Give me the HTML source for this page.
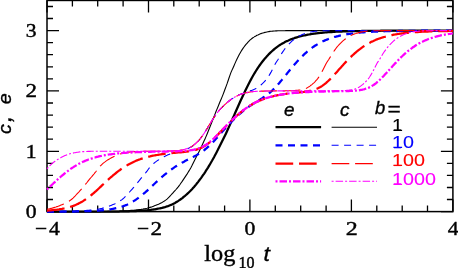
<!DOCTYPE html>
<html><head><meta charset="utf-8">
<style>
html,body{margin:0;padding:0;background:#fff;}
body{width:458px;height:268px;overflow:hidden;position:relative;font-family:"Liberation Sans",sans-serif;}
svg{position:absolute;left:0;top:0;}
.t{position:absolute;white-space:nowrap;line-height:1;color:#000;}
</style></head><body>
<svg style="will-change:transform" width="458" height="268" viewBox="0 0 458 268">
<rect x="47.0" y="0.45" width="405.9" height="211.15" fill="none" stroke="#000" stroke-width="1.5"/>
<path d="M47.0,211.6 v-12 M47.0,0.45 v12 M72.4,211.6 v-6 M72.4,0.45 v6 M97.7,211.6 v-6 M97.7,0.45 v6 M123.1,211.6 v-6 M123.1,0.45 v6 M148.5,211.6 v-12 M148.5,0.45 v12 M173.8,211.6 v-6 M173.8,0.45 v6 M199.2,211.6 v-6 M199.2,0.45 v6 M224.6,211.6 v-6 M224.6,0.45 v6 M249.9,211.6 v-12 M249.9,0.45 v12 M275.3,211.6 v-6 M275.3,0.45 v6 M300.7,211.6 v-6 M300.7,0.45 v6 M326.1,211.6 v-6 M326.1,0.45 v6 M351.4,211.6 v-12 M351.4,0.45 v12 M376.8,211.6 v-6 M376.8,0.45 v6 M402.2,211.6 v-6 M402.2,0.45 v6 M427.5,211.6 v-6 M427.5,0.45 v6 M452.9,211.6 v-12 M452.9,0.45 v12 M47.0,211.6 h12 M452.9,211.6 h-12 M47.0,199.5 h6 M452.9,199.5 h-6 M47.0,187.5 h6 M452.9,187.5 h-6 M47.0,175.4 h6 M452.9,175.4 h-6 M47.0,163.3 h6 M452.9,163.3 h-6 M47.0,151.3 h12 M452.9,151.3 h-12 M47.0,139.2 h6 M452.9,139.2 h-6 M47.0,127.1 h6 M452.9,127.1 h-6 M47.0,115.1 h6 M452.9,115.1 h-6 M47.0,103.0 h6 M452.9,103.0 h-6 M47.0,90.9 h12 M452.9,90.9 h-12 M47.0,78.9 h6 M452.9,78.9 h-6 M47.0,66.8 h6 M452.9,66.8 h-6 M47.0,54.7 h6 M452.9,54.7 h-6 M47.0,42.7 h6 M452.9,42.7 h-6 M47.0,30.6 h12 M452.9,30.6 h-12 M47.0,18.5 h6 M452.9,18.5 h-6 M47.0,6.5 h6 M452.9,6.5 h-6" stroke="#000" stroke-width="1.3" fill="none"/>
<path d="M47.0,211.6 L48.0,211.6 L49.0,211.6 L50.0,211.6 L51.0,211.6 L52.0,211.6 L53.0,211.6 L54.0,211.6 L55.0,211.6 L56.0,211.6 L57.0,211.6 L58.0,211.6 L59.0,211.6 L60.0,211.6 L61.0,211.6 L62.0,211.6 L63.0,211.6 L64.0,211.6 L65.0,211.6 L66.0,211.6 L67.0,211.6 L68.0,211.6 L69.0,211.6 L70.0,211.6 L71.0,211.6 L72.0,211.6 L73.0,211.6 L74.0,211.6 L75.0,211.6 L76.0,211.6 L77.0,211.6 L78.0,211.6 L79.0,211.6 L80.0,211.6 L81.0,211.6 L82.0,211.6 L83.0,211.6 L84.0,211.6 L85.0,211.6 L86.0,211.6 L87.0,211.6 L88.0,211.6 L89.0,211.6 L90.0,211.6 L91.0,211.6 L92.0,211.6 L93.0,211.6 L94.0,211.6 L95.0,211.6 L96.0,211.6 L97.0,211.6 L98.0,211.6 L99.0,211.6 L100.0,211.6 L101.0,211.6 L102.0,211.6 L103.0,211.6 L104.0,211.6 L105.0,211.6 L106.0,211.6 L107.0,211.6 L108.0,211.6 L109.0,211.6 L110.0,211.6 L111.0,211.5 L112.0,211.5 L113.0,211.5 L114.0,211.5 L115.0,211.5 L116.0,211.5 L117.0,211.5 L118.0,211.5 L119.0,211.5 L120.0,211.4 L121.0,211.4 L122.0,211.4 L123.0,211.4 L124.0,211.4 L125.0,211.4 L126.0,211.3 L127.0,211.3 L128.0,211.3 L129.0,211.3 L130.0,211.2 L131.0,211.2 L132.0,211.2 L133.0,211.1 L134.0,211.1 L135.0,211.0 L136.0,211.0 L137.0,210.9 L138.0,210.9 L139.0,210.8 L140.0,210.8 L141.0,210.7 L142.0,210.7 L143.0,210.6 L144.0,210.5 L145.0,210.4 L146.0,210.4 L147.0,210.3 L148.0,210.2 L149.0,210.1 L150.0,210.0 L151.0,209.8 L152.0,209.7 L153.0,209.6 L154.0,209.4 L155.0,209.3 L156.0,209.1 L157.0,208.9 L158.0,208.7 L159.0,208.5 L160.0,208.3 L161.0,208.1 L162.0,207.9 L163.0,207.6 L164.0,207.3 L165.0,207.1 L166.0,206.7 L167.0,206.4 L168.0,206.1 L169.0,205.7 L170.0,205.3 L171.0,204.9 L172.0,204.4 L173.0,203.9 L174.0,203.4 L175.0,202.9 L176.0,202.3 L177.0,201.7 L178.0,201.1 L179.0,200.4 L180.0,199.8 L181.0,199.0 L182.0,198.3 L183.0,197.5 L184.0,196.7 L185.0,195.9 L186.0,195.0 L187.0,194.1 L188.0,193.2 L189.0,192.2 L190.0,191.3 L191.0,190.2 L192.0,189.2 L193.0,188.1 L194.0,187.0 L195.0,185.8 L196.0,184.6 L197.0,183.3 L198.0,182.1 L199.0,180.7 L200.0,179.4 L201.0,178.1 L202.0,176.7 L203.0,175.2 L204.0,173.8 L205.0,172.3 L206.0,170.7 L207.0,169.2 L208.0,167.6 L209.0,165.9 L210.0,164.2 L211.0,162.5 L212.0,160.8 L213.0,159.0 L214.0,157.2 L215.0,155.3 L216.0,153.4 L217.0,151.5 L218.0,149.6 L219.0,147.6 L220.0,145.6 L221.0,143.6 L222.0,141.6 L223.0,139.6 L224.0,137.5 L225.0,135.5 L226.0,133.4 L227.0,131.2 L228.0,129.1 L229.0,126.9 L230.0,124.6 L231.0,122.4 L232.0,120.1 L233.0,117.8 L234.0,115.6 L235.0,113.3 L236.0,111.0 L237.0,108.8 L238.0,106.5 L239.0,104.3 L240.0,102.0 L241.0,99.8 L242.0,97.7 L243.0,95.5 L244.0,93.4 L245.0,91.3 L246.0,89.2 L247.0,87.2 L248.0,85.3 L249.0,83.3 L249.9,81.4 L250.9,79.6 L251.9,77.8 L252.9,76.0 L253.9,74.3 L254.9,72.6 L255.9,71.0 L256.9,69.4 L257.9,67.9 L258.9,66.4 L259.9,65.0 L260.9,63.6 L261.9,62.3 L262.9,61.0 L263.9,59.7 L264.9,58.5 L265.9,57.4 L266.9,56.3 L267.9,55.2 L268.9,54.1 L269.9,53.1 L270.9,52.2 L271.9,51.2 L272.9,50.3 L273.9,49.5 L274.9,48.7 L275.9,47.9 L276.9,47.1 L277.9,46.4 L278.9,45.7 L279.9,45.0 L280.9,44.4 L281.9,43.8 L282.9,43.2 L283.9,42.7 L284.9,42.1 L285.9,41.6 L286.9,41.1 L287.9,40.7 L288.9,40.2 L289.9,39.8 L290.9,39.4 L291.9,39.0 L292.9,38.6 L293.9,38.3 L294.9,37.9 L295.9,37.6 L296.9,37.3 L297.9,37.0 L298.9,36.7 L299.9,36.4 L300.9,36.2 L301.9,35.9 L302.9,35.7 L303.9,35.5 L304.9,35.3 L305.9,35.1 L306.9,34.9 L307.9,34.7 L308.9,34.5 L309.9,34.3 L310.9,34.1 L311.9,34.0 L312.9,33.8 L313.9,33.7 L314.9,33.6 L315.9,33.4 L316.9,33.3 L317.9,33.2 L318.9,33.1 L319.9,33.0 L320.9,32.9 L321.9,32.8 L322.9,32.7 L323.9,32.6 L324.9,32.5 L325.9,32.4 L326.9,32.3 L327.9,32.2 L328.9,32.2 L329.9,32.1 L330.9,32.0 L331.9,32.0 L332.9,31.9 L333.9,31.8 L334.9,31.8 L335.9,31.7 L336.9,31.7 L337.9,31.6 L338.9,31.6 L339.9,31.6 L340.9,31.5 L341.9,31.5 L342.9,31.4 L343.9,31.4 L344.9,31.4 L345.9,31.3 L346.9,31.3 L347.9,31.3 L348.9,31.2 L349.9,31.2 L350.9,31.2 L351.9,31.2 L352.9,31.1 L353.9,31.1 L354.9,31.1 L355.9,31.1 L356.9,31.0 L357.9,31.0 L358.9,31.0 L359.9,31.0 L360.9,31.0 L361.9,30.9 L362.9,30.9 L363.9,30.9 L364.9,30.9 L365.9,30.9 L366.9,30.9 L367.9,30.9 L368.9,30.9 L369.9,30.8 L370.9,30.8 L371.9,30.8 L372.9,30.8 L373.9,30.8 L374.9,30.8 L375.9,30.8 L376.9,30.8 L377.9,30.8 L378.9,30.8 L379.9,30.8 L380.9,30.7 L381.9,30.7 L382.9,30.7 L383.9,30.7 L384.9,30.7 L385.9,30.7 L386.9,30.7 L387.9,30.7 L388.9,30.7 L389.9,30.7 L390.9,30.7 L391.9,30.7 L392.9,30.7 L393.9,30.7 L394.9,30.7 L395.9,30.7 L396.9,30.7 L397.9,30.7 L398.9,30.7 L399.9,30.7 L400.9,30.7 L401.9,30.7 L402.9,30.7 L403.9,30.7 L404.9,30.6 L405.9,30.6 L406.9,30.6 L407.9,30.6 L408.9,30.6 L409.9,30.6 L410.9,30.6 L411.9,30.6 L412.9,30.6 L413.9,30.6 L414.9,30.6 L415.9,30.6 L416.9,30.6 L417.9,30.6 L418.9,30.6 L419.9,30.6 L420.9,30.6 L421.9,30.6 L422.9,30.6 L423.9,30.6 L424.9,30.6 L425.9,30.6 L426.9,30.6 L427.9,30.6 L428.9,30.6 L429.9,30.6 L430.9,30.6 L431.9,30.6 L432.9,30.6 L433.9,30.6 L434.9,30.6 L435.9,30.6 L436.9,30.6 L437.9,30.6 L438.9,30.6 L439.9,30.6 L440.9,30.6 L441.9,30.6 L442.9,30.6 L443.9,30.6 L444.9,30.6 L445.9,30.6 L446.9,30.6 L447.9,30.6 L448.9,30.6 L449.9,30.6 L450.9,30.6 L451.9,30.6 L452.9,30.6" stroke="#000000" stroke-width="2.25" fill="none"/>
<path d="M47.0,211.6 L48.0,211.6 L49.0,211.6 L50.0,211.6 L51.0,211.6 L52.0,211.6 L53.0,211.6 L54.0,211.6 L55.0,211.6 L56.0,211.6 L57.0,211.6 L58.0,211.6 L59.0,211.6 L60.0,211.6 L61.0,211.6 L62.0,211.6 L63.0,211.6 L64.0,211.6 L65.0,211.6 L66.0,211.6 L67.0,211.6 L68.0,211.6 L69.0,211.6 L70.0,211.6 L71.0,211.6 L72.0,211.6 L73.0,211.6 L74.0,211.6 L75.0,211.6 L76.0,211.6 L77.0,211.6 L78.0,211.6 L79.0,211.6 L80.0,211.6 L81.0,211.6 L82.0,211.6 L83.0,211.6 L84.0,211.6 L85.0,211.6 L86.0,211.6 L87.0,211.6 L88.0,211.6 L89.0,211.6 L90.0,211.6 L91.0,211.6 L92.0,211.6 L93.0,211.6 L94.0,211.6 L95.0,211.6 L96.0,211.6 L97.0,211.6 L98.0,211.6 L99.0,211.6 L100.0,211.6 L101.0,211.5 L102.0,211.5 L103.0,211.5 L104.0,211.5 L105.0,211.5 L106.0,211.5 L107.0,211.5 L108.0,211.4 L109.0,211.4 L110.0,211.4 L111.0,211.4 L112.0,211.4 L113.0,211.3 L114.0,211.3 L115.0,211.3 L116.0,211.3 L117.0,211.2 L118.0,211.2 L119.0,211.2 L120.0,211.1 L121.0,211.1 L122.0,211.1 L123.0,211.0 L124.0,210.9 L125.0,210.9 L126.0,210.8 L127.0,210.8 L128.0,210.7 L129.0,210.6 L130.0,210.5 L131.0,210.4 L132.0,210.4 L133.0,210.3 L134.0,210.2 L135.0,210.1 L136.0,210.0 L137.0,209.8 L138.0,209.7 L139.0,209.6 L140.0,209.5 L141.0,209.4 L142.0,209.2 L143.0,209.1 L144.0,208.9 L145.0,208.7 L146.0,208.5 L147.0,208.3 L148.0,208.0 L149.0,207.7 L150.0,207.4 L151.0,207.1 L152.0,206.8 L153.0,206.4 L154.0,206.0 L155.0,205.6 L156.0,205.2 L157.0,204.8 L158.0,204.4 L159.0,204.0 L160.0,203.5 L161.0,203.0 L162.0,202.5 L163.0,201.9 L164.0,201.3 L165.0,200.6 L166.0,199.9 L167.0,199.1 L168.0,198.2 L169.0,197.2 L170.0,196.1 L171.0,195.0 L172.0,193.9 L173.0,192.8 L174.0,191.7 L175.0,190.6 L176.0,189.5 L177.0,188.3 L178.0,187.1 L179.0,185.8 L180.0,184.5 L181.0,183.0 L182.0,181.6 L183.0,180.1 L184.0,178.6 L185.0,177.1 L186.0,175.6 L187.0,174.1 L188.0,172.5 L189.0,170.9 L190.0,169.3 L191.0,167.5 L192.0,165.6 L193.0,163.5 L194.0,161.4 L195.0,159.4 L196.0,157.5 L197.0,155.6 L198.0,153.7 L199.0,151.7 L200.0,149.7 L201.0,147.6 L202.0,145.5 L203.0,143.3 L204.0,141.1 L205.0,138.9 L206.0,136.6 L207.0,134.2 L208.0,131.8 L209.0,129.3 L210.0,126.8 L211.0,124.3 L212.0,121.8 L213.0,119.2 L214.0,116.6 L215.0,114.1 L216.0,111.5 L217.0,109.1 L218.0,106.7 L219.0,104.2 L220.0,101.8 L221.0,99.5 L222.0,97.1 L223.0,94.6 L224.0,92.0 L225.0,89.3 L226.0,86.6 L227.0,83.9 L228.0,81.0 L229.0,78.0 L230.0,75.1 L231.0,72.4 L232.0,70.1 L233.0,67.9 L234.0,65.7 L235.0,63.4 L236.0,61.1 L237.0,58.9 L238.0,56.9 L239.0,55.0 L240.0,53.2 L241.0,51.5 L242.0,49.9 L243.0,48.4 L244.0,47.0 L245.0,45.7 L246.0,44.4 L247.0,43.3 L248.0,42.2 L249.0,41.1 L249.9,40.2 L250.9,39.3 L251.9,38.5 L252.9,37.7 L253.9,37.1 L254.9,36.4 L255.9,35.9 L256.9,35.3 L257.9,34.9 L258.9,34.4 L259.9,34.0 L260.9,33.6 L261.9,33.3 L262.9,33.0 L263.9,32.7 L264.9,32.4 L265.9,32.2 L266.9,32.0 L267.9,31.8 L268.9,31.6 L269.9,31.4 L270.9,31.3 L271.9,31.2 L272.9,31.1 L273.9,31.0 L274.9,31.0 L275.9,30.9 L276.9,30.9 L277.9,30.8 L278.9,30.8 L279.9,30.8 L280.9,30.7 L281.9,30.7 L282.9,30.7 L283.9,30.7 L284.9,30.7 L285.9,30.6 L286.9,30.6 L287.9,30.6 L288.9,30.6 L289.9,30.6 L290.9,30.6 L291.9,30.6 L292.9,30.6 L293.9,30.6 L294.9,30.6 L295.9,30.6 L296.9,30.6 L297.9,30.6 L298.9,30.6 L299.9,30.6 L300.9,30.6 L301.9,30.6 L302.9,30.6 L303.9,30.6 L304.9,30.6 L305.9,30.6 L306.9,30.6 L307.9,30.6 L308.9,30.6 L309.9,30.6 L310.9,30.6 L311.9,30.6 L312.9,30.6 L313.9,30.6 L314.9,30.6 L315.9,30.6 L316.9,30.6 L317.9,30.6 L318.9,30.6 L319.9,30.6 L320.9,30.6 L321.9,30.6 L322.9,30.6 L323.9,30.6 L324.9,30.6 L325.9,30.6 L326.9,30.6 L327.9,30.6 L328.9,30.6 L329.9,30.6 L330.9,30.6 L331.9,30.6 L332.9,30.6 L333.9,30.6 L334.9,30.6 L335.9,30.6 L336.9,30.6 L337.9,30.6 L338.9,30.6 L339.9,30.6 L340.9,30.6 L341.9,30.6 L342.9,30.6 L343.9,30.6 L344.9,30.6 L345.9,30.6 L346.9,30.6 L347.9,30.6 L348.9,30.6 L349.9,30.6 L350.9,30.6 L351.9,30.6 L352.9,30.6 L353.9,30.6 L354.9,30.6 L355.9,30.6 L356.9,30.6 L357.9,30.6 L358.9,30.6 L359.9,30.6 L360.9,30.6 L361.9,30.6 L362.9,30.6 L363.9,30.6 L364.9,30.6 L365.9,30.6 L366.9,30.6 L367.9,30.6 L368.9,30.6 L369.9,30.6 L370.9,30.6 L371.9,30.6 L372.9,30.6 L373.9,30.6 L374.9,30.6 L375.9,30.6 L376.9,30.6 L377.9,30.6 L378.9,30.6 L379.9,30.6 L380.9,30.6 L381.9,30.6 L382.9,30.6 L383.9,30.6 L384.9,30.6 L385.9,30.6 L386.9,30.6 L387.9,30.6 L388.9,30.6 L389.9,30.6 L390.9,30.6 L391.9,30.6 L392.9,30.6 L393.9,30.6 L394.9,30.6 L395.9,30.6 L396.9,30.6 L397.9,30.6 L398.9,30.6 L399.9,30.6 L400.9,30.6 L401.9,30.6 L402.9,30.6 L403.9,30.6 L404.9,30.6 L405.9,30.6 L406.9,30.6 L407.9,30.6 L408.9,30.6 L409.9,30.6 L410.9,30.6 L411.9,30.6 L412.9,30.6 L413.9,30.6 L414.9,30.6 L415.9,30.6 L416.9,30.6 L417.9,30.6 L418.9,30.6 L419.9,30.6 L420.9,30.6 L421.9,30.6 L422.9,30.6 L423.9,30.6 L424.9,30.6 L425.9,30.6 L426.9,30.6 L427.9,30.6 L428.9,30.6 L429.9,30.6 L430.9,30.6 L431.9,30.6 L432.9,30.6 L433.9,30.6 L434.9,30.6 L435.9,30.6 L436.9,30.6 L437.9,30.6 L438.9,30.6 L439.9,30.6 L440.9,30.6 L441.9,30.6 L442.9,30.6 L443.9,30.6 L444.9,30.6 L445.9,30.6 L446.9,30.6 L447.9,30.6 L448.9,30.6 L449.9,30.6 L450.9,30.6 L451.9,30.6 L452.9,30.6" stroke="#000000" stroke-width="1.1" fill="none"/>
<path d="M47.0,211.6 L48.0,211.6 L49.0,211.6 L50.0,211.6 L51.0,211.6 L52.0,211.6 L53.0,211.6 L54.0,211.6 L55.0,211.6 L56.0,211.6 L57.0,211.6 L58.0,211.6 L59.0,211.6 L60.0,211.6 L61.0,211.6 L62.0,211.6 L63.0,211.6 L64.0,211.6 L65.0,211.6 L66.0,211.5 L67.0,211.5 L68.0,211.5 L69.0,211.5 L70.0,211.5 L71.0,211.5 L72.0,211.5 L73.0,211.5 L74.0,211.5 L75.0,211.5 L76.0,211.4 L77.0,211.4 L78.0,211.4 L79.0,211.4 L80.0,211.4 L81.0,211.3 L82.0,211.3 L83.0,211.3 L84.0,211.3 L85.0,211.2 L86.0,211.2 L87.0,211.2 L88.0,211.1 L89.0,211.1 L90.0,211.1 L91.0,211.0 L92.0,211.0 L93.0,210.9 L94.0,210.9 L95.0,210.8 L96.0,210.7 L97.0,210.7 L98.0,210.6 L99.0,210.6 L100.0,210.5 L101.0,210.4 L102.0,210.3 L103.0,210.2 L104.0,210.1 L105.0,210.0 L106.0,209.9 L107.0,209.8 L108.0,209.6 L109.0,209.5 L110.0,209.3 L111.0,209.2 L112.0,209.0 L113.0,208.8 L114.0,208.6 L115.0,208.4 L116.0,208.2 L117.0,208.0 L118.0,207.7 L119.0,207.5 L120.0,207.2 L121.0,206.9 L122.0,206.6 L123.0,206.3 L124.0,205.9 L125.0,205.5 L126.0,205.1 L127.0,204.7 L128.0,204.2 L129.0,203.7 L130.0,203.2 L131.0,202.7 L132.0,202.1 L133.0,201.5 L134.0,200.9 L135.0,200.3 L136.0,199.6 L137.0,198.9 L138.0,198.2 L139.0,197.4 L140.0,196.7 L141.0,195.9 L142.0,195.1 L143.0,194.3 L144.0,193.4 L145.0,192.6 L146.0,191.7 L147.0,190.8 L148.0,189.9 L149.0,189.0 L150.0,188.1 L151.0,187.1 L152.0,186.1 L153.0,185.2 L154.0,184.2 L155.0,183.3 L156.0,182.3 L157.0,181.4 L158.0,180.5 L159.0,179.6 L160.0,178.7 L161.0,177.8 L162.0,176.9 L163.0,176.0 L164.0,175.2 L165.0,174.4 L166.0,173.6 L167.0,172.7 L168.0,172.0 L169.0,171.2 L170.0,170.4 L171.0,169.7 L172.0,169.0 L173.0,168.3 L174.0,167.6 L175.0,166.9 L176.0,166.3 L177.0,165.7 L178.0,165.1 L179.0,164.5 L180.0,163.9 L181.0,163.3 L182.0,162.7 L183.0,162.2 L184.0,161.7 L185.0,161.1 L186.0,160.6 L187.0,160.1 L188.0,159.6 L189.0,159.1 L190.0,158.6 L191.0,158.1 L192.0,157.6 L193.0,157.1 L194.0,156.5 L195.0,156.0 L196.0,155.5 L197.0,154.9 L198.0,154.3 L199.0,153.7 L200.0,153.1 L201.0,152.4 L202.0,151.7 L203.0,151.0 L204.0,150.3 L205.0,149.5 L206.0,148.7 L207.0,147.8 L208.0,147.0 L209.0,146.0 L210.0,145.1 L211.0,144.1 L212.0,143.1 L213.0,142.1 L214.0,141.0 L215.0,139.9 L216.0,138.8 L217.0,137.7 L218.0,136.6 L219.0,135.5 L220.0,134.3 L221.0,133.2 L222.0,132.1 L223.0,130.9 L224.0,129.8 L225.0,128.7 L226.0,127.6 L227.0,126.5 L228.0,125.5 L229.0,124.4 L230.0,123.3 L231.0,122.3 L232.0,121.3 L233.0,120.3 L234.0,119.3 L235.0,118.3 L236.0,117.3 L237.0,116.4 L238.0,115.4 L239.0,114.5 L240.0,113.6 L241.0,112.8 L242.0,111.9 L243.0,111.1 L244.0,110.3 L245.0,109.5 L246.0,108.8 L247.0,108.0 L248.0,107.3 L249.0,106.6 L249.9,105.9 L250.9,105.3 L251.9,104.6 L252.9,104.0 L253.9,103.3 L254.9,102.7 L255.9,102.1 L256.9,101.5 L257.9,100.9 L258.9,100.2 L259.9,99.6 L260.9,99.0 L261.9,98.4 L262.9,97.7 L263.9,97.0 L264.9,96.4 L265.9,95.7 L266.9,94.9 L267.9,94.2 L268.9,93.4 L269.9,92.6 L270.9,91.7 L271.9,90.8 L272.9,89.9 L273.9,88.9 L274.9,87.8 L275.9,86.8 L276.9,85.7 L277.9,84.5 L278.9,83.4 L279.9,82.2 L280.9,81.1 L281.9,79.9 L282.9,78.6 L283.9,77.4 L284.9,76.2 L285.9,74.9 L286.9,73.7 L287.9,72.4 L288.9,71.2 L289.9,70.0 L290.9,68.8 L291.9,67.6 L292.9,66.4 L293.9,65.2 L294.9,64.0 L295.9,62.9 L296.9,61.8 L297.9,60.7 L298.9,59.6 L299.9,58.6 L300.9,57.5 L301.9,56.5 L302.9,55.6 L303.9,54.6 L304.9,53.7 L305.9,52.8 L306.9,51.9 L307.9,51.1 L308.9,50.2 L309.9,49.4 L310.9,48.7 L311.9,47.9 L312.9,47.2 L313.9,46.5 L314.9,45.8 L315.9,45.2 L316.9,44.6 L317.9,44.0 L318.9,43.4 L319.9,42.9 L320.9,42.3 L321.9,41.8 L322.9,41.3 L323.9,40.9 L324.9,40.4 L325.9,40.0 L326.9,39.6 L327.9,39.2 L328.9,38.8 L329.9,38.4 L330.9,38.1 L331.9,37.8 L332.9,37.4 L333.9,37.1 L334.9,36.8 L335.9,36.6 L336.9,36.3 L337.9,36.1 L338.9,35.8 L339.9,35.6 L340.9,35.4 L341.9,35.1 L342.9,34.9 L343.9,34.8 L344.9,34.6 L345.9,34.4 L346.9,34.2 L347.9,34.1 L348.9,33.9 L349.9,33.8 L350.9,33.6 L351.9,33.5 L352.9,33.4 L353.9,33.2 L354.9,33.1 L355.9,33.0 L356.9,32.9 L357.9,32.8 L358.9,32.7 L359.9,32.6 L360.9,32.5 L361.9,32.4 L362.9,32.4 L363.9,32.3 L364.9,32.2 L365.9,32.1 L366.9,32.1 L367.9,32.0 L368.9,31.9 L369.9,31.9 L370.9,31.8 L371.9,31.8 L372.9,31.7 L373.9,31.7 L374.9,31.6 L375.9,31.6 L376.9,31.5 L377.9,31.5 L378.9,31.4 L379.9,31.4 L380.9,31.4 L381.9,31.3 L382.9,31.3 L383.9,31.3 L384.9,31.2 L385.9,31.2 L386.9,31.2 L387.9,31.2 L388.9,31.1 L389.9,31.1 L390.9,31.1 L391.9,31.1 L392.9,31.0 L393.9,31.0 L394.9,31.0 L395.9,31.0 L396.9,31.0 L397.9,31.0 L398.9,30.9 L399.9,30.9 L400.9,30.9 L401.9,30.9 L402.9,30.9 L403.9,30.9 L404.9,30.9 L405.9,30.8 L406.9,30.8 L407.9,30.8 L408.9,30.8 L409.9,30.8 L410.9,30.8 L411.9,30.8 L412.9,30.8 L413.9,30.8 L414.9,30.8 L415.9,30.8 L416.9,30.7 L417.9,30.7 L418.9,30.7 L419.9,30.7 L420.9,30.7 L421.9,30.7 L422.9,30.7 L423.9,30.7 L424.9,30.7 L425.9,30.7 L426.9,30.7 L427.9,30.7 L428.9,30.7 L429.9,30.7 L430.9,30.7 L431.9,30.7 L432.9,30.7 L433.9,30.7 L434.9,30.7 L435.9,30.7 L436.9,30.7 L437.9,30.7 L438.9,30.7 L439.9,30.7 L440.9,30.6 L441.9,30.6 L442.9,30.6 L443.9,30.6 L444.9,30.6 L445.9,30.6 L446.9,30.6 L447.9,30.6 L448.9,30.6 L449.9,30.6 L450.9,30.6 L451.9,30.6 L452.9,30.6" stroke="#0000ff" stroke-width="2.25" fill="none" stroke-dasharray="7 5.5"/>
<path d="M47.0,211.6 L48.0,211.6 L49.0,211.6 L50.0,211.6 L51.0,211.6 L52.0,211.6 L53.0,211.6 L54.0,211.6 L55.0,211.6 L56.0,211.5 L57.0,211.5 L58.0,211.5 L59.0,211.5 L60.0,211.5 L61.0,211.5 L62.0,211.5 L63.0,211.4 L64.0,211.4 L65.0,211.4 L66.0,211.4 L67.0,211.4 L68.0,211.3 L69.0,211.3 L70.0,211.3 L71.0,211.3 L72.0,211.2 L73.0,211.2 L74.0,211.2 L75.0,211.2 L76.0,211.1 L77.0,211.1 L78.0,211.0 L79.0,211.0 L80.0,210.9 L81.0,210.9 L82.0,210.8 L83.0,210.7 L84.0,210.6 L85.0,210.6 L86.0,210.5 L87.0,210.4 L88.0,210.3 L89.0,210.2 L90.0,210.1 L91.0,210.0 L92.0,209.9 L93.0,209.8 L94.0,209.7 L95.0,209.5 L96.0,209.4 L97.0,209.3 L98.0,209.2 L99.0,209.0 L100.0,208.8 L101.0,208.6 L102.0,208.4 L103.0,208.1 L104.0,207.8 L105.0,207.6 L106.0,207.2 L107.0,206.9 L108.0,206.6 L109.0,206.2 L110.0,205.8 L111.0,205.4 L112.0,205.0 L113.0,204.6 L114.0,204.2 L115.0,203.8 L116.0,203.3 L117.0,202.8 L118.0,202.2 L119.0,201.6 L120.0,201.0 L121.0,200.3 L122.0,199.6 L123.0,198.8 L124.0,197.9 L125.0,196.8 L126.0,195.8 L127.0,194.7 L128.0,193.6 L129.0,192.6 L130.0,191.5 L131.0,190.4 L132.0,189.3 L133.0,188.2 L134.0,187.1 L135.0,185.9 L136.0,184.7 L137.0,183.4 L138.0,182.1 L139.0,180.9 L140.0,179.6 L141.0,178.4 L142.0,177.2 L143.0,176.1 L144.0,174.9 L145.0,173.7 L146.0,172.4 L147.0,171.1 L148.0,169.7 L149.0,168.3 L150.0,167.1 L151.0,166.0 L152.0,165.0 L153.0,164.1 L154.0,163.2 L155.0,162.4 L156.0,161.6 L157.0,160.9 L158.0,160.2 L159.0,159.6 L160.0,158.9 L161.0,158.4 L162.0,157.8 L163.0,157.2 L164.0,156.7 L165.0,156.2 L166.0,155.7 L167.0,155.3 L168.0,154.8 L169.0,154.4 L170.0,154.0 L171.0,153.7 L172.0,153.4 L173.0,153.1 L174.0,152.8 L175.0,152.5 L176.0,152.3 L177.0,152.0 L178.0,151.8 L179.0,151.5 L180.0,151.2 L181.0,150.9 L182.0,150.5 L183.0,150.2 L184.0,149.9 L185.0,149.6 L186.0,149.2 L187.0,148.8 L188.0,148.4 L189.0,148.0 L190.0,147.5 L191.0,147.0 L192.0,146.4 L193.0,145.7 L194.0,144.9 L195.0,144.1 L196.0,143.2 L197.0,142.2 L198.0,141.3 L199.0,140.2 L200.0,139.0 L201.0,137.7 L202.0,136.4 L203.0,134.9 L204.0,133.5 L205.0,132.0 L206.0,130.4 L207.0,128.7 L208.0,127.0 L209.0,125.3 L210.0,123.7 L211.0,122.1 L212.0,120.5 L213.0,118.9 L214.0,117.4 L215.0,115.9 L216.0,114.5 L217.0,113.1 L218.0,111.8 L219.0,110.6 L220.0,109.4 L221.0,108.3 L222.0,107.3 L223.0,106.3 L224.0,105.4 L225.0,104.4 L226.0,103.6 L227.0,102.7 L228.0,101.8 L229.0,101.0 L230.0,100.2 L231.0,99.4 L232.0,98.7 L233.0,98.1 L234.0,97.4 L235.0,96.8 L236.0,96.3 L237.0,95.7 L238.0,95.3 L239.0,94.8 L240.0,94.4 L241.0,94.0 L242.0,93.6 L243.0,93.3 L244.0,92.9 L245.0,92.6 L246.0,92.3 L247.0,91.9 L248.0,91.6 L249.0,91.3 L249.9,91.0 L250.9,90.6 L251.9,90.3 L252.9,89.9 L253.9,89.5 L254.9,89.1 L255.9,88.6 L256.9,88.0 L257.9,87.3 L258.9,86.6 L259.9,85.8 L260.9,85.0 L261.9,84.1 L262.9,83.2 L263.9,82.2 L264.9,81.1 L265.9,80.0 L266.9,78.8 L267.9,77.3 L268.9,75.8 L269.9,74.1 L270.9,72.4 L271.9,70.5 L272.9,68.5 L273.9,66.4 L274.9,64.5 L275.9,62.7 L276.9,61.2 L277.9,59.7 L278.9,58.1 L279.9,56.4 L280.9,54.7 L281.9,53.1 L282.9,51.6 L283.9,50.2 L284.9,48.8 L285.9,47.5 L286.9,46.3 L287.9,45.2 L288.9,44.1 L289.9,43.1 L290.9,42.1 L291.9,41.2 L292.9,40.3 L293.9,39.5 L294.9,38.7 L295.9,38.1 L296.9,37.4 L297.9,36.8 L298.9,36.2 L299.9,35.7 L300.9,35.2 L301.9,34.7 L302.9,34.3 L303.9,33.9 L304.9,33.6 L305.9,33.2 L306.9,32.9 L307.9,32.7 L308.9,32.4 L309.9,32.2 L310.9,32.0 L311.9,31.8 L312.9,31.6 L313.9,31.5 L314.9,31.3 L315.9,31.2 L316.9,31.2 L317.9,31.1 L318.9,31.0 L319.9,30.9 L320.9,30.9 L321.9,30.8 L322.9,30.8 L323.9,30.8 L324.9,30.7 L325.9,30.7 L326.9,30.7 L327.9,30.7 L328.9,30.7 L329.9,30.7 L330.9,30.6 L331.9,30.6 L332.9,30.6 L333.9,30.6 L334.9,30.6 L335.9,30.6 L336.9,30.6 L337.9,30.6 L338.9,30.6 L339.9,30.6 L340.9,30.6 L341.9,30.6 L342.9,30.6 L343.9,30.6 L344.9,30.6 L345.9,30.6 L346.9,30.6 L347.9,30.6 L348.9,30.6 L349.9,30.6 L350.9,30.6 L351.9,30.6 L352.9,30.6 L353.9,30.6 L354.9,30.6 L355.9,30.6 L356.9,30.6 L357.9,30.6 L358.9,30.6 L359.9,30.6 L360.9,30.6 L361.9,30.6 L362.9,30.6 L363.9,30.6 L364.9,30.6 L365.9,30.6 L366.9,30.6 L367.9,30.6 L368.9,30.6 L369.9,30.6 L370.9,30.6 L371.9,30.6 L372.9,30.6 L373.9,30.6 L374.9,30.6 L375.9,30.6 L376.9,30.6 L377.9,30.6 L378.9,30.6 L379.9,30.6 L380.9,30.6 L381.9,30.6 L382.9,30.6 L383.9,30.6 L384.9,30.6 L385.9,30.6 L386.9,30.6 L387.9,30.6 L388.9,30.6 L389.9,30.6 L390.9,30.6 L391.9,30.6 L392.9,30.6 L393.9,30.6 L394.9,30.6 L395.9,30.6 L396.9,30.6 L397.9,30.6 L398.9,30.6 L399.9,30.6 L400.9,30.6 L401.9,30.6 L402.9,30.6 L403.9,30.6 L404.9,30.6 L405.9,30.6 L406.9,30.6 L407.9,30.6 L408.9,30.6 L409.9,30.6 L410.9,30.6 L411.9,30.6 L412.9,30.6 L413.9,30.6 L414.9,30.6 L415.9,30.6 L416.9,30.6 L417.9,30.6 L418.9,30.6 L419.9,30.6 L420.9,30.6 L421.9,30.6 L422.9,30.6 L423.9,30.6 L424.9,30.6 L425.9,30.6 L426.9,30.6 L427.9,30.6 L428.9,30.6 L429.9,30.6 L430.9,30.6 L431.9,30.6 L432.9,30.6 L433.9,30.6 L434.9,30.6 L435.9,30.6 L436.9,30.6 L437.9,30.6 L438.9,30.6 L439.9,30.6 L440.9,30.6 L441.9,30.6 L442.9,30.6 L443.9,30.6 L444.9,30.6 L445.9,30.6 L446.9,30.6 L447.9,30.6 L448.9,30.6 L449.9,30.6 L450.9,30.6 L451.9,30.6 L452.9,30.6" stroke="#0000ff" stroke-width="1.1" fill="none" stroke-dasharray="7 5.5"/>
<path d="M47.0,210.6 L48.0,210.6 L49.0,210.5 L50.0,210.4 L51.0,210.3 L52.0,210.2 L53.0,210.2 L54.0,210.0 L55.0,209.9 L56.0,209.8 L57.0,209.7 L58.0,209.5 L59.0,209.4 L60.0,209.2 L61.0,209.0 L62.0,208.9 L63.0,208.7 L64.0,208.5 L65.0,208.3 L66.0,208.0 L67.0,207.8 L68.0,207.5 L69.0,207.3 L70.0,207.0 L71.0,206.7 L72.0,206.4 L73.0,206.0 L74.0,205.6 L75.0,205.2 L76.0,204.8 L77.0,204.3 L78.0,203.9 L79.0,203.3 L80.0,202.8 L81.0,202.2 L82.0,201.7 L83.0,201.1 L84.0,200.4 L85.0,199.8 L86.0,199.1 L87.0,198.4 L88.0,197.6 L89.0,196.9 L90.0,196.1 L91.0,195.3 L92.0,194.5 L93.0,193.7 L94.0,192.8 L95.0,191.9 L96.0,191.1 L97.0,190.2 L98.0,189.2 L99.0,188.3 L100.0,187.3 L101.0,186.4 L102.0,185.4 L103.0,184.5 L104.0,183.5 L105.0,182.6 L106.0,181.6 L107.0,180.7 L108.0,179.8 L109.0,178.9 L110.0,178.0 L111.0,177.1 L112.0,176.3 L113.0,175.4 L114.0,174.6 L115.0,173.8 L116.0,173.0 L117.0,172.2 L118.0,171.4 L119.0,170.7 L120.0,170.0 L121.0,169.2 L122.0,168.5 L123.0,167.9 L124.0,167.2 L125.0,166.6 L126.0,166.0 L127.0,165.4 L128.0,164.8 L129.0,164.2 L130.0,163.7 L131.0,163.2 L132.0,162.7 L133.0,162.2 L134.0,161.7 L135.0,161.3 L136.0,160.8 L137.0,160.4 L138.0,160.0 L139.0,159.6 L140.0,159.3 L141.0,158.9 L142.0,158.6 L143.0,158.3 L144.0,158.0 L145.0,157.7 L146.0,157.4 L147.0,157.1 L148.0,156.9 L149.0,156.6 L150.0,156.4 L151.0,156.1 L152.0,155.9 L153.0,155.7 L154.0,155.5 L155.0,155.3 L156.0,155.1 L157.0,155.0 L158.0,154.8 L159.0,154.6 L160.0,154.5 L161.0,154.3 L162.0,154.2 L163.0,154.1 L164.0,153.9 L165.0,153.8 L166.0,153.7 L167.0,153.6 L168.0,153.5 L169.0,153.4 L170.0,153.3 L171.0,153.2 L172.0,153.1 L173.0,153.0 L174.0,152.9 L175.0,152.8 L176.0,152.7 L177.0,152.6 L178.0,152.5 L179.0,152.4 L180.0,152.3 L181.0,152.3 L182.0,152.2 L183.0,152.1 L184.0,151.9 L185.0,151.8 L186.0,151.7 L187.0,151.6 L188.0,151.4 L189.0,151.3 L190.0,151.1 L191.0,150.9 L192.0,150.8 L193.0,150.5 L194.0,150.3 L195.0,150.0 L196.0,149.8 L197.0,149.4 L198.0,149.1 L199.0,148.7 L200.0,148.3 L201.0,147.9 L202.0,147.4 L203.0,146.9 L204.0,146.3 L205.0,145.7 L206.0,145.1 L207.0,144.4 L208.0,143.7 L209.0,142.9 L210.0,142.1 L211.0,141.2 L212.0,140.3 L213.0,139.4 L214.0,138.5 L215.0,137.5 L216.0,136.5 L217.0,135.5 L218.0,134.5 L219.0,133.4 L220.0,132.4 L221.0,131.4 L222.0,130.3 L223.0,129.3 L224.0,128.2 L225.0,127.2 L226.0,126.2 L227.0,125.1 L228.0,124.1 L229.0,123.1 L230.0,122.1 L231.0,121.1 L232.0,120.2 L233.0,119.2 L234.0,118.2 L235.0,117.3 L236.0,116.4 L237.0,115.5 L238.0,114.6 L239.0,113.8 L240.0,112.9 L241.0,112.1 L242.0,111.3 L243.0,110.5 L244.0,109.8 L245.0,109.0 L246.0,108.3 L247.0,107.6 L248.0,106.9 L249.0,106.3 L249.9,105.7 L250.9,105.1 L251.9,104.5 L252.9,103.9 L253.9,103.3 L254.9,102.8 L255.9,102.3 L256.9,101.8 L257.9,101.4 L258.9,100.9 L259.9,100.5 L260.9,100.1 L261.9,99.7 L262.9,99.3 L263.9,98.9 L264.9,98.6 L265.9,98.3 L266.9,97.9 L267.9,97.6 L268.9,97.3 L269.9,97.0 L270.9,96.8 L271.9,96.5 L272.9,96.3 L273.9,96.0 L274.9,95.8 L275.9,95.6 L276.9,95.4 L277.9,95.2 L278.9,95.0 L279.9,94.8 L280.9,94.6 L281.9,94.5 L282.9,94.3 L283.9,94.2 L284.9,94.0 L285.9,93.9 L286.9,93.7 L287.9,93.6 L288.9,93.5 L289.9,93.4 L290.9,93.3 L291.9,93.1 L292.9,93.0 L293.9,92.9 L294.9,92.8 L295.9,92.7 L296.9,92.6 L297.9,92.5 L298.9,92.4 L299.9,92.3 L300.9,92.2 L301.9,92.1 L302.9,92.0 L303.9,91.9 L304.9,91.7 L305.9,91.6 L306.9,91.4 L307.9,91.3 L308.9,91.1 L309.9,90.9 L310.9,90.7 L311.9,90.4 L312.9,90.1 L313.9,89.8 L314.9,89.5 L315.9,89.1 L316.9,88.7 L317.9,88.3 L318.9,87.8 L319.9,87.3 L320.9,86.7 L321.9,86.1 L322.9,85.4 L323.9,84.7 L324.9,83.9 L325.9,83.1 L326.9,82.2 L327.9,81.3 L328.9,80.3 L329.9,79.4 L330.9,78.4 L331.9,77.3 L332.9,76.3 L333.9,75.2 L334.9,74.1 L335.9,73.0 L336.9,71.9 L337.9,70.8 L338.9,69.6 L339.9,68.5 L340.9,67.4 L341.9,66.3 L342.9,65.2 L343.9,64.1 L344.9,63.0 L345.9,61.9 L346.9,60.9 L347.9,59.8 L348.9,58.8 L349.9,57.8 L350.9,56.9 L351.9,55.9 L352.9,55.0 L353.9,54.1 L354.9,53.2 L355.9,52.3 L356.9,51.5 L357.9,50.6 L358.9,49.8 L359.9,49.1 L360.9,48.3 L361.9,47.6 L362.9,46.9 L363.9,46.2 L364.9,45.6 L365.9,44.9 L366.9,44.3 L367.9,43.8 L368.9,43.2 L369.9,42.7 L370.9,42.1 L371.9,41.6 L372.9,41.2 L373.9,40.7 L374.9,40.3 L375.9,39.8 L376.9,39.4 L377.9,39.0 L378.9,38.7 L379.9,38.3 L380.9,38.0 L381.9,37.7 L382.9,37.3 L383.9,37.0 L384.9,36.8 L385.9,36.5 L386.9,36.2 L387.9,36.0 L388.9,35.7 L389.9,35.5 L390.9,35.3 L391.9,35.1 L392.9,34.9 L393.9,34.7 L394.9,34.5 L395.9,34.3 L396.9,34.2 L397.9,34.0 L398.9,33.9 L399.9,33.7 L400.9,33.6 L401.9,33.4 L402.9,33.3 L403.9,33.2 L404.9,33.1 L405.9,33.0 L406.9,32.9 L407.9,32.8 L408.9,32.7 L409.9,32.6 L410.9,32.5 L411.9,32.4 L412.9,32.3 L413.9,32.3 L414.9,32.2 L415.9,32.1 L416.9,32.0 L417.9,32.0 L418.9,31.9 L419.9,31.9 L420.9,31.8 L421.9,31.7 L422.9,31.7 L423.9,31.6 L424.9,31.6 L425.9,31.6 L426.9,31.5 L427.9,31.5 L428.9,31.4 L429.9,31.4 L430.9,31.4 L431.9,31.3 L432.9,31.3 L433.9,31.3 L434.9,31.2 L435.9,31.2 L436.9,31.2 L437.9,31.2 L438.9,31.1 L439.9,31.1 L440.9,31.1 L441.9,31.1 L442.9,31.0 L443.9,31.0 L444.9,31.0 L445.9,31.0 L446.9,31.0 L447.9,31.0 L448.9,30.9 L449.9,30.9 L450.9,30.9 L451.9,30.9 L452.9,30.9" stroke="#ff0000" stroke-width="2.25" fill="none" stroke-dasharray="17.7 5.8"/>
<path d="M47.0,209.2 L48.0,209.0 L49.0,208.9 L50.0,208.7 L51.0,208.4 L52.0,208.2 L53.0,207.9 L54.0,207.6 L55.0,207.3 L56.0,207.0 L57.0,206.6 L58.0,206.3 L59.0,205.9 L60.0,205.5 L61.0,205.1 L62.0,204.7 L63.0,204.3 L64.0,203.9 L65.0,203.4 L66.0,202.9 L67.0,202.4 L68.0,201.8 L69.0,201.2 L70.0,200.5 L71.0,199.8 L72.0,199.0 L73.0,198.1 L74.0,197.1 L75.0,196.1 L76.0,195.0 L77.0,193.9 L78.0,192.8 L79.0,191.8 L80.0,190.7 L81.0,189.6 L82.0,188.5 L83.0,187.4 L84.0,186.2 L85.0,185.0 L86.0,183.7 L87.0,182.5 L88.0,181.2 L89.0,179.9 L90.0,178.7 L91.0,177.5 L92.0,176.4 L93.0,175.2 L94.0,174.0 L95.0,172.7 L96.0,171.5 L97.0,170.1 L98.0,168.7 L99.0,167.4 L100.0,166.3 L101.0,165.3 L102.0,164.3 L103.0,163.4 L104.0,162.6 L105.0,161.9 L106.0,161.1 L107.0,160.4 L108.0,159.8 L109.0,159.2 L110.0,158.6 L111.0,158.0 L112.0,157.5 L113.0,157.0 L114.0,156.5 L115.0,156.0 L116.0,155.5 L117.0,155.1 L118.0,154.7 L119.0,154.4 L120.0,154.0 L121.0,153.7 L122.0,153.5 L123.0,153.2 L124.0,153.0 L125.0,152.8 L126.0,152.6 L127.0,152.5 L128.0,152.3 L129.0,152.2 L130.0,152.0 L131.0,151.9 L132.0,151.8 L133.0,151.7 L134.0,151.6 L135.0,151.6 L136.0,151.5 L137.0,151.5 L138.0,151.5 L139.0,151.4 L140.0,151.4 L141.0,151.4 L142.0,151.3 L143.0,151.3 L144.0,151.3 L145.0,151.3 L146.0,151.3 L147.0,151.3 L148.0,151.3 L149.0,151.3 L150.0,151.3 L151.0,151.3 L152.0,151.3 L153.0,151.3 L154.0,151.2 L155.0,151.2 L156.0,151.2 L157.0,151.2 L158.0,151.2 L159.0,151.2 L160.0,151.2 L161.0,151.2 L162.0,151.2 L163.0,151.2 L164.0,151.1 L165.0,151.1 L166.0,151.1 L167.0,151.1 L168.0,151.1 L169.0,151.0 L170.0,151.0 L171.0,151.0 L172.0,151.0 L173.0,150.9 L174.0,150.9 L175.0,150.8 L176.0,150.8 L177.0,150.7 L178.0,150.6 L179.0,150.5 L180.0,150.3 L181.0,150.1 L182.0,150.0 L183.0,149.8 L184.0,149.5 L185.0,149.2 L186.0,148.9 L187.0,148.6 L188.0,148.2 L189.0,147.8 L190.0,147.4 L191.0,146.9 L192.0,146.3 L193.0,145.6 L194.0,144.8 L195.0,144.0 L196.0,143.1 L197.0,142.2 L198.0,141.3 L199.0,140.2 L200.0,139.0 L201.0,137.7 L202.0,136.4 L203.0,134.9 L204.0,133.5 L205.0,132.0 L206.0,130.4 L207.0,128.7 L208.0,127.0 L209.0,125.3 L210.0,123.7 L211.0,122.1 L212.0,120.5 L213.0,118.9 L214.0,117.4 L215.0,115.9 L216.0,114.5 L217.0,113.1 L218.0,111.8 L219.0,110.6 L220.0,109.4 L221.0,108.3 L222.0,107.3 L223.0,106.3 L224.0,105.4 L225.0,104.4 L226.0,103.6 L227.0,102.7 L228.0,101.8 L229.0,101.0 L230.0,100.2 L231.0,99.5 L232.0,98.8 L233.0,98.1 L234.0,97.5 L235.0,96.9 L236.0,96.4 L237.0,95.9 L238.0,95.4 L239.0,95.0 L240.0,94.6 L241.0,94.2 L242.0,93.9 L243.0,93.6 L244.0,93.3 L245.0,93.0 L246.0,92.8 L247.0,92.6 L248.0,92.4 L249.0,92.2 L249.9,92.0 L250.9,91.8 L251.9,91.7 L252.9,91.6 L253.9,91.5 L254.9,91.5 L255.9,91.4 L256.9,91.3 L257.9,91.3 L258.9,91.2 L259.9,91.2 L260.9,91.2 L261.9,91.1 L262.9,91.1 L263.9,91.1 L264.9,91.1 L265.9,91.0 L266.9,91.0 L267.9,91.0 L268.9,91.0 L269.9,91.0 L270.9,91.0 L271.9,91.0 L272.9,90.9 L273.9,90.9 L274.9,90.9 L275.9,90.9 L276.9,90.9 L277.9,90.9 L278.9,90.9 L279.9,90.9 L280.9,90.9 L281.9,90.9 L282.9,90.9 L283.9,90.9 L284.9,90.9 L285.9,90.8 L286.9,90.8 L287.9,90.8 L288.9,90.8 L289.9,90.8 L290.9,90.7 L291.9,90.7 L292.9,90.7 L293.9,90.6 L294.9,90.5 L295.9,90.4 L296.9,90.4 L297.9,90.2 L298.9,90.1 L299.9,90.0 L300.9,89.9 L301.9,89.7 L302.9,89.4 L303.9,89.2 L304.9,88.8 L305.9,88.5 L306.9,88.0 L307.9,87.4 L308.9,86.8 L309.9,86.1 L310.9,85.3 L311.9,84.6 L312.9,83.7 L313.9,82.8 L314.9,81.8 L315.9,80.7 L316.9,79.6 L317.9,78.3 L318.9,76.9 L319.9,75.3 L320.9,73.7 L321.9,71.9 L322.9,70.0 L323.9,68.0 L324.9,65.9 L325.9,64.0 L326.9,62.3 L327.9,60.8 L328.9,59.3 L329.9,57.6 L330.9,55.9 L331.9,54.2 L332.9,52.7 L333.9,51.3 L334.9,49.9 L335.9,48.5 L336.9,47.2 L337.9,46.0 L338.9,44.9 L339.9,43.8 L340.9,42.8 L341.9,41.8 L342.9,40.9 L343.9,40.1 L344.9,39.3 L345.9,38.6 L346.9,37.9 L347.9,37.2 L348.9,36.6 L349.9,36.1 L350.9,35.5 L351.9,35.1 L352.9,34.6 L353.9,34.2 L354.9,33.8 L355.9,33.5 L356.9,33.1 L357.9,32.9 L358.9,32.6 L359.9,32.4 L360.9,32.1 L361.9,31.9 L362.9,31.7 L363.9,31.6 L364.9,31.4 L365.9,31.3 L366.9,31.2 L367.9,31.1 L368.9,31.1 L369.9,31.0 L370.9,30.9 L371.9,30.9 L372.9,30.8 L373.9,30.8 L374.9,30.8 L375.9,30.7 L376.9,30.7 L377.9,30.7 L378.9,30.7 L379.9,30.7 L380.9,30.6 L381.9,30.6 L382.9,30.6 L383.9,30.6 L384.9,30.6 L385.9,30.6 L386.9,30.6 L387.9,30.6 L388.9,30.6 L389.9,30.6 L390.9,30.6 L391.9,30.6 L392.9,30.6 L393.9,30.6 L394.9,30.6 L395.9,30.6 L396.9,30.6 L397.9,30.6 L398.9,30.6 L399.9,30.6 L400.9,30.6 L401.9,30.6 L402.9,30.6 L403.9,30.6 L404.9,30.6 L405.9,30.6 L406.9,30.6 L407.9,30.6 L408.9,30.6 L409.9,30.6 L410.9,30.6 L411.9,30.6 L412.9,30.6 L413.9,30.6 L414.9,30.6 L415.9,30.6 L416.9,30.6 L417.9,30.6 L418.9,30.6 L419.9,30.6 L420.9,30.6 L421.9,30.6 L422.9,30.6 L423.9,30.6 L424.9,30.6 L425.9,30.6 L426.9,30.6 L427.9,30.6 L428.9,30.6 L429.9,30.6 L430.9,30.6 L431.9,30.6 L432.9,30.6 L433.9,30.6 L434.9,30.6 L435.9,30.6 L436.9,30.6 L437.9,30.6 L438.9,30.6 L439.9,30.6 L440.9,30.6 L441.9,30.6 L442.9,30.6 L443.9,30.6 L444.9,30.6 L445.9,30.6 L446.9,30.6 L447.9,30.6 L448.9,30.6 L449.9,30.6 L450.9,30.6 L451.9,30.6 L452.9,30.6" stroke="#ff0000" stroke-width="1.1" fill="none" stroke-dasharray="17.7 5.8"/>
<path d="M47.0,189.5 L48.0,188.5 L49.0,187.6 L50.0,186.6 L51.0,185.7 L52.0,184.7 L53.0,183.8 L54.0,182.8 L55.0,181.9 L56.0,180.9 L57.0,180.0 L58.0,179.1 L59.0,178.2 L60.0,177.4 L61.0,176.5 L62.0,175.6 L63.0,174.8 L64.0,174.0 L65.0,173.2 L66.0,172.4 L67.0,171.6 L68.0,170.9 L69.0,170.1 L70.0,169.4 L71.0,168.7 L72.0,168.0 L73.0,167.4 L74.0,166.7 L75.0,166.1 L76.0,165.5 L77.0,164.9 L78.0,164.4 L79.0,163.8 L80.0,163.3 L81.0,162.8 L82.0,162.3 L83.0,161.8 L84.0,161.4 L85.0,160.9 L86.0,160.5 L87.0,160.1 L88.0,159.7 L89.0,159.4 L90.0,159.0 L91.0,158.7 L92.0,158.4 L93.0,158.0 L94.0,157.7 L95.0,157.5 L96.0,157.2 L97.0,156.9 L98.0,156.7 L99.0,156.4 L100.0,156.2 L101.0,156.0 L102.0,155.8 L103.0,155.6 L104.0,155.4 L105.0,155.2 L106.0,155.0 L107.0,154.9 L108.0,154.7 L109.0,154.5 L110.0,154.4 L111.0,154.3 L112.0,154.1 L113.0,154.0 L114.0,153.9 L115.0,153.8 L116.0,153.7 L117.0,153.5 L118.0,153.4 L119.0,153.3 L120.0,153.3 L121.0,153.2 L122.0,153.1 L123.0,153.0 L124.0,152.9 L125.0,152.9 L126.0,152.8 L127.0,152.7 L128.0,152.7 L129.0,152.6 L130.0,152.5 L131.0,152.5 L132.0,152.4 L133.0,152.4 L134.0,152.3 L135.0,152.3 L136.0,152.2 L137.0,152.2 L138.0,152.1 L139.0,152.1 L140.0,152.1 L141.0,152.0 L142.0,152.0 L143.0,152.0 L144.0,151.9 L145.0,151.9 L146.0,151.9 L147.0,151.9 L148.0,151.8 L149.0,151.8 L150.0,151.8 L151.0,151.8 L152.0,151.7 L153.0,151.7 L154.0,151.7 L155.0,151.7 L156.0,151.7 L157.0,151.6 L158.0,151.6 L159.0,151.6 L160.0,151.6 L161.0,151.6 L162.0,151.5 L163.0,151.5 L164.0,151.5 L165.0,151.5 L166.0,151.5 L167.0,151.5 L168.0,151.4 L169.0,151.4 L170.0,151.4 L171.0,151.4 L172.0,151.4 L173.0,151.4 L174.0,151.3 L175.0,151.3 L176.0,151.3 L177.0,151.3 L178.0,151.2 L179.0,151.2 L180.0,151.2 L181.0,151.1 L182.0,151.1 L183.0,151.0 L184.0,151.0 L185.0,150.9 L186.0,150.8 L187.0,150.7 L188.0,150.6 L189.0,150.5 L190.0,150.4 L191.0,150.2 L192.0,150.1 L193.0,149.9 L194.0,149.7 L195.0,149.4 L196.0,149.2 L197.0,148.9 L198.0,148.6 L199.0,148.2 L200.0,147.9 L201.0,147.4 L202.0,147.0 L203.0,146.5 L204.0,145.9 L205.0,145.3 L206.0,144.7 L207.0,144.0 L208.0,143.3 L209.0,142.6 L210.0,141.8 L211.0,140.9 L212.0,140.1 L213.0,139.2 L214.0,138.2 L215.0,137.3 L216.0,136.3 L217.0,135.3 L218.0,134.3 L219.0,133.2 L220.0,132.2 L221.0,131.2 L222.0,130.1 L223.0,129.1 L224.0,128.1 L225.0,127.0 L226.0,126.0 L227.0,125.0 L228.0,124.0 L229.0,123.0 L230.0,122.0 L231.0,121.0 L232.0,120.1 L233.0,119.1 L234.0,118.1 L235.0,117.2 L236.0,116.3 L237.0,115.4 L238.0,114.5 L239.0,113.7 L240.0,112.8 L241.0,112.0 L242.0,111.2 L243.0,110.4 L244.0,109.7 L245.0,109.0 L246.0,108.2 L247.0,107.6 L248.0,106.9 L249.0,106.2 L249.9,105.6 L250.9,105.0 L251.9,104.4 L252.9,103.9 L253.9,103.3 L254.9,102.8 L255.9,102.3 L256.9,101.8 L257.9,101.3 L258.9,100.9 L259.9,100.5 L260.9,100.0 L261.9,99.6 L262.9,99.3 L263.9,98.9 L264.9,98.6 L265.9,98.2 L266.9,97.9 L267.9,97.6 L268.9,97.3 L269.9,97.0 L270.9,96.8 L271.9,96.5 L272.9,96.3 L273.9,96.0 L274.9,95.8 L275.9,95.6 L276.9,95.4 L277.9,95.2 L278.9,95.0 L279.9,94.8 L280.9,94.6 L281.9,94.5 L282.9,94.3 L283.9,94.2 L284.9,94.0 L285.9,93.9 L286.9,93.8 L287.9,93.6 L288.9,93.5 L289.9,93.4 L290.9,93.3 L291.9,93.2 L292.9,93.1 L293.9,93.0 L294.9,92.9 L295.9,92.8 L296.9,92.7 L297.9,92.6 L298.9,92.6 L299.9,92.5 L300.9,92.4 L301.9,92.4 L302.9,92.3 L303.9,92.2 L304.9,92.2 L305.9,92.1 L306.9,92.1 L307.9,92.0 L308.9,92.0 L309.9,91.9 L310.9,91.9 L311.9,91.8 L312.9,91.8 L313.9,91.8 L314.9,91.7 L315.9,91.7 L316.9,91.7 L317.9,91.6 L318.9,91.6 L319.9,91.6 L320.9,91.5 L321.9,91.5 L322.9,91.5 L323.9,91.5 L324.9,91.4 L325.9,91.4 L326.9,91.4 L327.9,91.4 L328.9,91.4 L329.9,91.3 L330.9,91.3 L331.9,91.3 L332.9,91.3 L333.9,91.3 L334.9,91.2 L335.9,91.2 L336.9,91.2 L337.9,91.2 L338.9,91.2 L339.9,91.2 L340.9,91.1 L341.9,91.1 L342.9,91.1 L343.9,91.1 L344.9,91.1 L345.9,91.0 L346.9,91.0 L347.9,91.0 L348.9,91.0 L349.9,90.9 L350.9,90.9 L351.9,90.8 L352.9,90.8 L353.9,90.7 L354.9,90.7 L355.9,90.6 L356.9,90.5 L357.9,90.4 L358.9,90.3 L359.9,90.1 L360.9,89.9 L361.9,89.8 L362.9,89.5 L363.9,89.3 L364.9,89.0 L365.9,88.7 L366.9,88.4 L367.9,88.0 L368.9,87.6 L369.9,87.1 L370.9,86.6 L371.9,86.0 L372.9,85.4 L373.9,84.8 L374.9,84.0 L375.9,83.3 L376.9,82.4 L377.9,81.6 L378.9,80.7 L379.9,79.7 L380.9,78.8 L381.9,77.8 L382.9,76.7 L383.9,75.7 L384.9,74.6 L385.9,73.5 L386.9,72.4 L387.9,71.3 L388.9,70.2 L389.9,69.1 L390.9,68.0 L391.9,66.9 L392.9,65.8 L393.9,64.7 L394.9,63.6 L395.9,62.6 L396.9,61.5 L397.9,60.5 L398.9,59.4 L399.9,58.4 L400.9,57.4 L401.9,56.5 L402.9,55.5 L403.9,54.6 L404.9,53.7 L405.9,52.8 L406.9,52.0 L407.9,51.1 L408.9,50.3 L409.9,49.6 L410.9,48.8 L411.9,48.1 L412.9,47.3 L413.9,46.7 L414.9,46.0 L415.9,45.3 L416.9,44.7 L417.9,44.1 L418.9,43.5 L419.9,43.0 L420.9,42.5 L421.9,42.0 L422.9,41.5 L423.9,41.0 L424.9,40.5 L425.9,40.1 L426.9,39.7 L427.9,39.3 L428.9,38.9 L429.9,38.5 L430.9,38.2 L431.9,37.9 L432.9,37.5 L433.9,37.2 L434.9,36.9 L435.9,36.7 L436.9,36.4 L437.9,36.1 L438.9,35.9 L439.9,35.7 L440.9,35.4 L441.9,35.2 L442.9,35.0 L443.9,34.8 L444.9,34.6 L445.9,34.4 L446.9,34.3 L447.9,34.1 L448.9,34.0 L449.9,33.8 L450.9,33.7 L451.9,33.5 L452.9,33.4" stroke="#ff00ff" stroke-width="2.25" fill="none" stroke-dasharray="2 2 7.5 2"/>
<path d="M47.0,169.0 L48.0,167.7 L49.0,166.5 L50.0,165.5 L51.0,164.6 L52.0,163.7 L53.0,162.8 L54.0,162.0 L55.0,161.3 L56.0,160.6 L57.0,159.9 L58.0,159.3 L59.0,158.7 L60.0,158.2 L61.0,157.6 L62.0,157.1 L63.0,156.6 L64.0,156.1 L65.0,155.6 L66.0,155.2 L67.0,154.8 L68.0,154.4 L69.0,154.1 L70.0,153.8 L71.0,153.5 L72.0,153.3 L73.0,153.1 L74.0,152.8 L75.0,152.7 L76.0,152.5 L77.0,152.3 L78.0,152.2 L79.0,152.0 L80.0,151.9 L81.0,151.8 L82.0,151.7 L83.0,151.6 L84.0,151.6 L85.0,151.5 L86.0,151.5 L87.0,151.5 L88.0,151.4 L89.0,151.4 L90.0,151.4 L91.0,151.3 L92.0,151.3 L93.0,151.3 L94.0,151.3 L95.0,151.3 L96.0,151.3 L97.0,151.3 L98.0,151.3 L99.0,151.3 L100.0,151.3 L101.0,151.3 L102.0,151.3 L103.0,151.3 L104.0,151.3 L105.0,151.3 L106.0,151.3 L107.0,151.3 L108.0,151.3 L109.0,151.3 L110.0,151.3 L111.0,151.3 L112.0,151.3 L113.0,151.3 L114.0,151.3 L115.0,151.3 L116.0,151.3 L117.0,151.3 L118.0,151.3 L119.0,151.3 L120.0,151.3 L121.0,151.3 L122.0,151.3 L123.0,151.3 L124.0,151.3 L125.0,151.3 L126.0,151.3 L127.0,151.3 L128.0,151.3 L129.0,151.3 L130.0,151.3 L131.0,151.3 L132.0,151.3 L133.0,151.3 L134.0,151.3 L135.0,151.3 L136.0,151.3 L137.0,151.3 L138.0,151.3 L139.0,151.3 L140.0,151.3 L141.0,151.3 L142.0,151.3 L143.0,151.3 L144.0,151.3 L145.0,151.3 L146.0,151.3 L147.0,151.3 L148.0,151.3 L149.0,151.3 L150.0,151.3 L151.0,151.3 L152.0,151.3 L153.0,151.3 L154.0,151.2 L155.0,151.2 L156.0,151.2 L157.0,151.2 L158.0,151.2 L159.0,151.2 L160.0,151.2 L161.0,151.2 L162.0,151.2 L163.0,151.2 L164.0,151.1 L165.0,151.1 L166.0,151.1 L167.0,151.1 L168.0,151.1 L169.0,151.0 L170.0,151.0 L171.0,151.0 L172.0,151.0 L173.0,150.9 L174.0,150.9 L175.0,150.8 L176.0,150.8 L177.0,150.7 L178.0,150.6 L179.0,150.5 L180.0,150.3 L181.0,150.1 L182.0,150.0 L183.0,149.8 L184.0,149.5 L185.0,149.2 L186.0,148.9 L187.0,148.6 L188.0,148.2 L189.0,147.8 L190.0,147.4 L191.0,146.9 L192.0,146.3 L193.0,145.6 L194.0,144.8 L195.0,144.0 L196.0,143.1 L197.0,142.2 L198.0,141.3 L199.0,140.2 L200.0,139.0 L201.0,137.7 L202.0,136.4 L203.0,134.9 L204.0,133.5 L205.0,132.0 L206.0,130.4 L207.0,128.7 L208.0,127.0 L209.0,125.3 L210.0,123.7 L211.0,122.1 L212.0,120.5 L213.0,118.9 L214.0,117.4 L215.0,115.9 L216.0,114.5 L217.0,113.1 L218.0,111.8 L219.0,110.6 L220.0,109.4 L221.0,108.3 L222.0,107.3 L223.0,106.3 L224.0,105.4 L225.0,104.4 L226.0,103.6 L227.0,102.7 L228.0,101.8 L229.0,101.0 L230.0,100.2 L231.0,99.5 L232.0,98.8 L233.0,98.1 L234.0,97.5 L235.0,96.9 L236.0,96.4 L237.0,95.9 L238.0,95.4 L239.0,95.0 L240.0,94.6 L241.0,94.2 L242.0,93.9 L243.0,93.6 L244.0,93.3 L245.0,93.0 L246.0,92.8 L247.0,92.6 L248.0,92.4 L249.0,92.2 L249.9,92.0 L250.9,91.8 L251.9,91.7 L252.9,91.6 L253.9,91.5 L254.9,91.5 L255.9,91.4 L256.9,91.3 L257.9,91.3 L258.9,91.2 L259.9,91.2 L260.9,91.2 L261.9,91.1 L262.9,91.1 L263.9,91.1 L264.9,91.1 L265.9,91.0 L266.9,91.0 L267.9,91.0 L268.9,91.0 L269.9,91.0 L270.9,91.0 L271.9,91.0 L272.9,90.9 L273.9,90.9 L274.9,90.9 L275.9,90.9 L276.9,90.9 L277.9,90.9 L278.9,90.9 L279.9,90.9 L280.9,90.9 L281.9,90.9 L282.9,90.9 L283.9,90.9 L284.9,90.9 L285.9,90.9 L286.9,90.9 L287.9,90.9 L288.9,90.9 L289.9,90.9 L290.9,90.9 L291.9,90.9 L292.9,90.9 L293.9,90.9 L294.9,90.9 L295.9,90.9 L296.9,90.9 L297.9,90.9 L298.9,90.9 L299.9,90.9 L300.9,90.9 L301.9,90.9 L302.9,90.9 L303.9,90.9 L304.9,90.9 L305.9,90.9 L306.9,90.9 L307.9,90.9 L308.9,90.9 L309.9,90.9 L310.9,90.9 L311.9,90.9 L312.9,90.9 L313.9,90.9 L314.9,90.9 L315.9,90.9 L316.9,90.9 L317.9,90.9 L318.9,90.9 L319.9,90.9 L320.9,90.9 L321.9,90.9 L322.9,90.9 L323.9,90.9 L324.9,90.9 L325.9,90.9 L326.9,90.9 L327.9,90.9 L328.9,90.9 L329.9,90.9 L330.9,90.9 L331.9,90.9 L332.9,90.9 L333.9,90.9 L334.9,90.9 L335.9,90.9 L336.9,90.8 L337.9,90.8 L338.9,90.8 L339.9,90.8 L340.9,90.8 L341.9,90.7 L342.9,90.7 L343.9,90.6 L344.9,90.6 L345.9,90.5 L346.9,90.4 L347.9,90.3 L348.9,90.2 L349.9,90.1 L350.9,90.0 L351.9,89.8 L352.9,89.6 L353.9,89.4 L354.9,89.1 L355.9,88.7 L356.9,88.3 L357.9,87.9 L358.9,87.3 L359.9,86.6 L360.9,85.9 L361.9,85.1 L362.9,84.4 L363.9,83.5 L364.9,82.6 L365.9,81.5 L366.9,80.5 L367.9,79.3 L368.9,78.0 L369.9,76.5 L370.9,74.9 L371.9,73.2 L372.9,71.5 L373.9,69.5 L374.9,67.5 L375.9,65.4 L376.9,63.5 L377.9,61.9 L378.9,60.5 L379.9,58.9 L380.9,57.2 L381.9,55.5 L382.9,53.8 L383.9,52.3 L384.9,50.9 L385.9,49.5 L386.9,48.2 L387.9,46.9 L388.9,45.7 L389.9,44.6 L390.9,43.6 L391.9,42.6 L392.9,41.6 L393.9,40.7 L394.9,39.9 L395.9,39.1 L396.9,38.4 L397.9,37.7 L398.9,37.1 L399.9,36.5 L400.9,35.9 L401.9,35.4 L402.9,34.9 L403.9,34.5 L404.9,34.1 L405.9,33.7 L406.9,33.4 L407.9,33.1 L408.9,32.8 L409.9,32.5 L410.9,32.3 L411.9,32.1 L412.9,31.9 L413.9,31.7 L414.9,31.5 L415.9,31.4 L416.9,31.3 L417.9,31.2 L418.9,31.1 L419.9,31.0 L420.9,31.0 L421.9,30.9 L422.9,30.9 L423.9,30.8 L424.9,30.8 L425.9,30.8 L426.9,30.7 L427.9,30.7 L428.9,30.7 L429.9,30.7 L430.9,30.7 L431.9,30.6 L432.9,30.6 L433.9,30.6 L434.9,30.6 L435.9,30.6 L436.9,30.6 L437.9,30.6 L438.9,30.6 L439.9,30.6 L440.9,30.6 L441.9,30.6 L442.9,30.6 L443.9,30.6 L444.9,30.6 L445.9,30.6 L446.9,30.6 L447.9,30.6 L448.9,30.6 L449.9,30.6 L450.9,30.6 L451.9,30.6 L452.9,30.6" stroke="#ff00ff" stroke-width="1.1" fill="none" stroke-dasharray="2 2 7.5 2"/>
<path d="M275.5,127.2 H321.1" stroke="#000000" stroke-width="2.25" fill="none"/>
<path d="M331.6,127.2 H377" stroke="#000000" stroke-width="1.1" fill="none"/>
<path d="M275.5,145.3 H321.1" stroke="#0000ff" stroke-width="2.25" fill="none" stroke-dasharray="7 5.5"/>
<path d="M331.6,145.3 H377" stroke="#0000ff" stroke-width="1.1" fill="none" stroke-dasharray="7 5.5"/>
<path d="M275.5,163.6 H321.1" stroke="#ff0000" stroke-width="2.25" fill="none" stroke-dasharray="17.7 5.8"/>
<path d="M331.6,163.6 H377" stroke="#ff0000" stroke-width="1.1" fill="none" stroke-dasharray="17.7 5.8"/>
<path d="M275.5,181.3 H321.1" stroke="#ff00ff" stroke-width="2.25" fill="none" stroke-dasharray="2 2 7.5 2"/>
<path d="M331.6,181.3 H377" stroke="#ff00ff" stroke-width="1.1" fill="none" stroke-dasharray="2 2 7.5 2"/>
<text transform="translate(36.6,218.1) scale(1.13,1)" font-family="Liberation Serif, sans-serif" font-size="19.2" text-anchor="end" fill="#000" stroke="#000" stroke-width="0.4">0</text>
<text transform="translate(36.6,157.8) scale(1.13,1)" font-family="Liberation Serif, sans-serif" font-size="19.2" text-anchor="end" fill="#000" stroke="#000" stroke-width="0.4">1</text>
<text transform="translate(36.9,97.4) scale(1.2,1)" font-family="Liberation Serif, sans-serif" font-size="19.2" text-anchor="end" fill="#000" stroke="#000" stroke-width="0.4">2</text>
<text transform="translate(36.6,37.1) scale(1.13,1)" font-family="Liberation Serif, sans-serif" font-size="19.2" text-anchor="end" fill="#000" stroke="#000" stroke-width="0.4">3</text>
<text transform="translate(249.9,234.8) scale(1.13,1)" font-family="Liberation Serif, sans-serif" font-size="19.2" text-anchor="middle" fill="#000" stroke="#000" stroke-width="0.4">0</text>
<text transform="translate(351.7,234.8) scale(1.25,1)" font-family="Liberation Serif, sans-serif" font-size="19.2" text-anchor="middle" fill="#000" stroke="#000" stroke-width="0.4">2</text>
<text transform="translate(453.1,234.8) scale(1.13,1)" font-family="Liberation Serif, sans-serif" font-size="19.2" text-anchor="middle" fill="#000" stroke="#000" stroke-width="0.4">4</text>
<text transform="translate(41.05,234.8) scale(1.12,1)" font-family="Liberation Serif, sans-serif" font-size="19.2" text-anchor="middle" fill="#000" stroke="#000" stroke-width="0.4">−</text>
<text transform="translate(54.5,234.8) scale(1.13,1)" font-family="Liberation Serif, sans-serif" font-size="19.2" text-anchor="middle" fill="#000" stroke="#000" stroke-width="0.4">4</text>
<text transform="translate(142.95,234.8) scale(1.12,1)" font-family="Liberation Serif, sans-serif" font-size="19.2" text-anchor="middle" fill="#000" stroke="#000" stroke-width="0.4">−</text>
<text transform="translate(156.25,234.8) scale(1.2,1)" font-family="Liberation Serif, sans-serif" font-size="19.2" text-anchor="middle" fill="#000" stroke="#000" stroke-width="0.4">2</text>
<path d="M393.9,130.0 H401.0" stroke="#000" stroke-width="1.15" fill="none"/>
<path d="M393.9,147.7 H401.0" stroke="#0000ff" stroke-width="1.15" fill="none"/>
<path d="M393.9,165.5 H401.0" stroke="#ff0000" stroke-width="1.15" fill="none"/>
<path d="M393.9,183.9 H401.0" stroke="#ff00ff" stroke-width="1.15" fill="none"/>
<text transform="translate(392.0,130.6) scale(1.14,1)" font-family="Liberation Sans, sans-serif" font-size="17.3" text-anchor="start" fill="#000000" stroke="#000000" stroke-width="0.12">1</text>
<text transform="translate(392.0,148.3) scale(1.14,1)" font-family="Liberation Sans, sans-serif" font-size="17.3" text-anchor="start" fill="#0000ff" stroke="#0000ff" stroke-width="0.12">10</text>
<text transform="translate(392.0,166.1) scale(1.14,1)" font-family="Liberation Sans, sans-serif" font-size="17.3" text-anchor="start" fill="#ff0000" stroke="#ff0000" stroke-width="0.12">100</text>
<text transform="translate(392.0,184.5) scale(1.14,1)" font-family="Liberation Sans, sans-serif" font-size="17.3" text-anchor="start" fill="#ff00ff" stroke="#ff00ff" stroke-width="0.12">1000</text>
<text transform="translate(284.0,115.7) scale(1.05,1)" font-family="Liberation Sans, sans-serif" font-size="18" text-anchor="start" fill="#000" font-style="italic" stroke="#000" stroke-width="0.35">e</text>
<text transform="translate(340.0,115.7) scale(1.05,1)" font-family="Liberation Sans, sans-serif" font-size="18" text-anchor="start" fill="#000" font-style="italic" stroke="#000" stroke-width="0.35">c</text>
<text transform="translate(375.0,114.2) scale(1.05,1)" font-family="Liberation Sans, sans-serif" font-size="17.5" text-anchor="start" fill="#000" font-style="italic" stroke="#000" stroke-width="0.35">b</text>
<text transform="translate(387.4,115.4) scale(1.3,1)" font-family="Liberation Sans, sans-serif" font-size="17.5" text-anchor="start" fill="#000" stroke="#000" stroke-width="0.3">=</text>
<text transform="translate(10.7,134.0) rotate(-90) scale(1.12,1)" font-family="Liberation Sans, sans-serif" font-size="17.6" fill="#000" font-style="italic" stroke="#000" stroke-width="0.35">c</text>
<text transform="translate(11.3,122.3) rotate(-90) scale(1.0,1)" font-family="Liberation Sans, sans-serif" font-size="24" fill="#000" font-style="italic" stroke="#000" stroke-width="0.35">,</text>
<text transform="translate(10.7,104.2) rotate(-90) scale(1.12,1)" font-family="Liberation Sans, sans-serif" font-size="17.6" fill="#000" font-style="italic" stroke="#000" stroke-width="0.35">e</text>
<text transform="translate(204.3,260.7) scale(1.08,1)" font-family="Liberation Serif, sans-serif" font-size="22.5" text-anchor="start" fill="#000" stroke="#000" stroke-width="0.4">log</text>
<text transform="translate(238.4,268.4) scale(1.0,1)" font-family="Liberation Serif, sans-serif" font-size="16" text-anchor="start" fill="#000" stroke="#000" stroke-width="0.45">10</text>
<text transform="translate(263.6,260.9) scale(1.12,1)" font-family="Liberation Sans, sans-serif" font-size="20.5" text-anchor="start" fill="#000" font-style="italic" stroke="#000" stroke-width="0.35">t</text>
</svg>

</body></html>
